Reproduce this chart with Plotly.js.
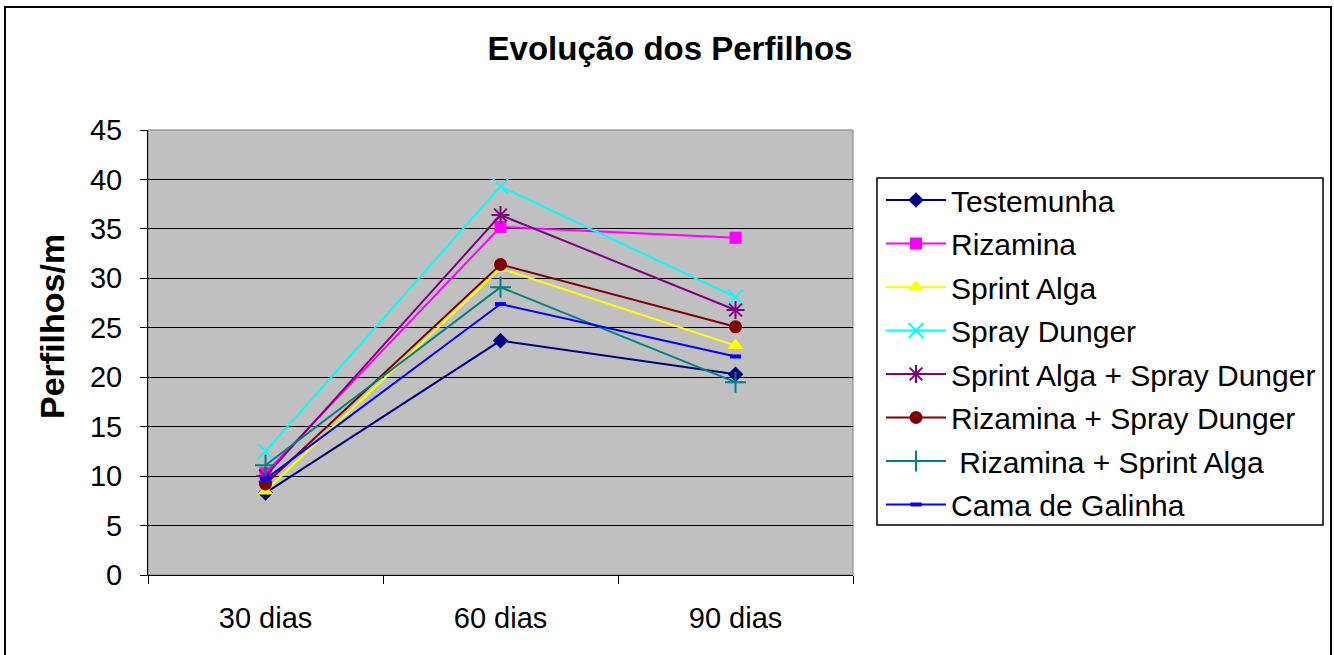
<!DOCTYPE html>
<html>
<head>
<meta charset="utf-8">
<script src="https://cdn.plot.ly/plotly-3.0.1.min.js"></script>
<style>html,body{margin:0;padding:0;background:#fff;overflow:hidden;width:1334px;height:655px;}</style>
</head>
<body>
<div id="chart" style="width:1334px;height:655px;overflow:hidden;"></div>
<script>
const categories = ['30 dias', '60 dias', '90 dias'];
const seriesNames = ['Testemunha', 'Rizamina', 'Sprint Alga', 'Spray Dunger',
  'Sprint Alga + Spray Dunger', 'Rizamina + Spray Dunger', ' Rizamina + Sprint Alga', 'Cama de Galinha'];
const testemunha = [8.3, 23.7, 20.3];
const rizamina = [10.3, 35.2, 34.1];
const sprintAlga = [8.5, 31.0, 23.2];
const sprayDunger = [12.5, 39.3, 28.1];
const sprintAlgaSprayDunger = [10.0, 36.4, 26.8];
const rizaminaSprayDunger = [9.2, 31.4, 25.1];
const rizaminaSprintAlga = [11.1, 29.1, 19.5];
const camaDeGalinha = [9.7, 27.4, 22.1];
const yTicks = [0, 5, 10, 15, 20, 25, 30, 35, 40, 45];

const seriesValues = [testemunha, rizamina, sprintAlga, sprayDunger,
  sprintAlgaSprayDunger, rizaminaSprayDunger, rizaminaSprintAlga, camaDeGalinha];
const colors = ['#000080', '#FF00FF', '#FFFF00', '#00FFFF', '#800080', '#800000', '#008080', '#0000FF'];
const symbols = ['diamond', 'square', 'triangle-up', 'x-thin-open', 'asterisk-open', 'circle', 'cross-thin-open', 'line-ew-open'];
const sizes = [12, 12, 14, 15, 15, 13, 15, 8];
const mlw = [0, 0, 0, 2, 2, 0, 2, 4];

const traces = seriesValues.map((vals, i) => ({
  type: 'scatter', mode: 'lines+markers',
  x: categories, y: vals, name: seriesNames[i],
  legendgroup: 'g' + i,
  line: {color: colors[i], width: 2},
  marker: {symbol: symbols[i], size: sizes[i], color: colors[i],
           line: {color: colors[i], width: mlw[i]}}
}));

const pl = 148, pr = 853, pt = 130, pb = 575;
const W = pr - pl, H = pb - pt;
const px = x => (x - pl) / W;
const py = y => (pb - y) / H;

const layout = {
  width: 1334, height: 655,
  margin: {l: pl, r: 1334 - pr, t: pt, b: 655 - pb, pad: 0},
  paper_bgcolor: '#ffffff', plot_bgcolor: '#C0C0C0',
  font: {family: '"Liberation Sans", Arial, sans-serif', color: '#000', size: 22},
  title: {text: 'Evolução dos Perfilhos', x: 670 / 1334, xref: 'container', xanchor: 'center',
          y: 1 - 48 / 655, yref: 'container', yanchor: 'middle',
          font: {size: 33, weight: 'bold', color: '#000'}},
  showlegend: true,
  legend: {x: px(881), xanchor: 'left', y: py(174), yanchor: 'top',
           bgcolor: 'rgba(0,0,0,0)', borderwidth: 0, tracegroupgap: 1.5, itemwidth: 60,
           font: {size: 30, color: '#000'}},
  xaxis: {type: 'category', tickson: 'boundaries', ticks: 'outside', ticklen: 8, tickcolor: '#000',
          showline: true, linecolor: '#000', linewidth: 1, showgrid: false, zeroline: false,
          range: [-0.5, 2.5], tickfont: {size: 29}, ticklabelstandoff: 17, fixedrange: true},
  yaxis: {range: [0, 45], tickvals: yTicks, ticks: 'outside', ticklen: 7, tickcolor: '#000',
          showline: true, linecolor: '#000', linewidth: 1, showgrid: true, gridcolor: '#000', gridwidth: 1,
          zeroline: false, tickfont: {size: 29}, ticklabelstandoff: 12, fixedrange: true},
  annotations: [{text: '<b>Perfilhos/m</b>', xref: 'paper', yref: 'paper', x: px(52), y: py(327),
                 xanchor: 'center', yanchor: 'middle', textangle: -90, showarrow: false,
                 font: {size: 34, color: '#000'}}],
  shapes: [
    {type: 'rect', xref: 'paper', yref: 'paper', x0: 0, x1: 1, y0: 0, y1: 1,
     line: {color: '#808080', width: 1}, layer: 'below'},
    {type: 'rect', xref: 'paper', yref: 'paper', x0: px(877), x1: px(1323), y0: py(525), y1: py(178),
     line: {color: '#000', width: 1.5}, fillcolor: 'rgba(0,0,0,0)'},
    {type: 'rect', xref: 'paper', yref: 'paper', x0: px(5), x1: px(1331), y0: py(665), y1: py(7),
     line: {color: '#000', width: 2}, fillcolor: 'rgba(0,0,0,0)'}
  ]
};

Plotly.newPlot('chart', traces, layout, {displayModeBar: false, staticPlot: true});
</script>
</body>
</html>
